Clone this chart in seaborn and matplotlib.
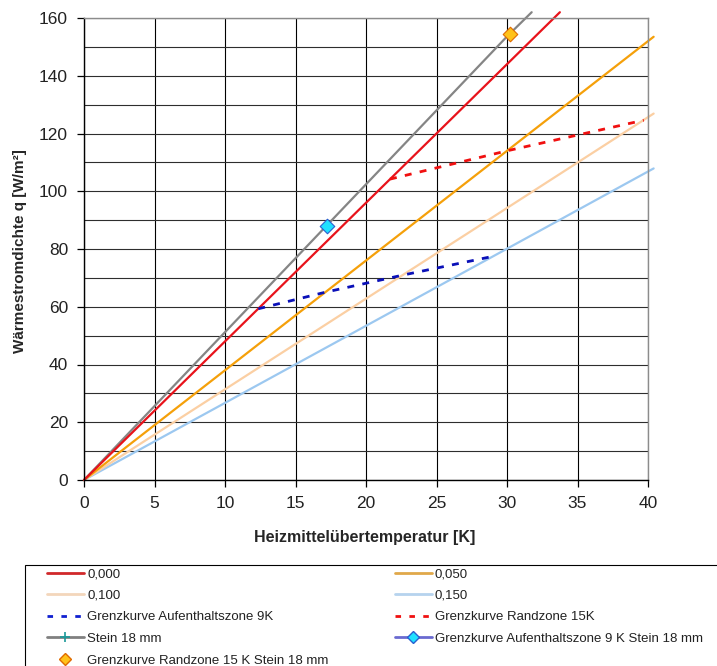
import matplotlib
matplotlib.use("Agg")
import matplotlib.pyplot as plt
from matplotlib.lines import Line2D
from matplotlib.patches import Rectangle
import seaborn as sns

sns.set_style("white")
plt.rcParams["font.family"] = ["Liberation Sans", "DejaVu Sans"]

# Heizmittelübertemperatur [K] -> Wärmestromdichte q [W/m²]
r000_dt = [0, 10, 20, 30, 33.75]
r000_q = [0, 48.0, 96.0, 144.0, 162.0]
r050_dt = [0, 10, 20, 30, 40.4]
r050_q = [0, 38.0, 76.0, 114.0, 153.5]
r100_dt = [0, 10, 20, 30, 40.4]
r100_q = [0, 31.4, 62.8, 94.2, 126.9]
r150_dt = [0, 10, 20, 30, 40.4]
r150_q = [0, 26.7, 53.4, 80.1, 107.9]
stein_dt = [0, 10, 20, 30, 31.75]
stein_q = [0, 51.2, 102.4, 153.6, 162.0]

grenz9_dt = [12.36, 17.09, 22.65, 29.15]
grenz9_q = [59.3, 65.0, 71.0, 77.6]
grenz15_dt = [21.7, 30.0, 39.7]
grenz15_q = [104.2, 114.0, 124.6]

grenz9_stein_dt = [17.2]
grenz9_stein_q = [88.1]
grenz15_stein_dt = [30.2]
grenz15_stein_q = [154.6]

c_red = "#e8131b"
c_orange = "#f5a00a"
c_peach = "#fbcfa3"
c_blue = "#9cc8f0"
c_grey = "#858585"
c_navy = "#0a10b8"
c_rdot = "#f01010"

fig = plt.figure(figsize=(7.17, 6.66), dpi=100)
ax = fig.add_axes([84 / 717, 186 / 666, 564 / 717, 462 / 666])

# grid first
ax.set_axisbelow(True)
ax.set_xlim(0, 40)
ax.set_ylim(0, 160)
ax.set_xticks(range(0, 41, 5))
ax.set_yticks(range(0, 161, 20))
ax.set_yticks(range(0, 161, 10), minor=True)
ax.grid(axis="x", which="major", color="black", lw=0.8)
ax.grid(axis="y", which="both", color="#2e2e2e", lw=0.8)
ax.tick_params(axis="both", which="major", direction="out", length=5, width=0.9,
               color="black", labelsize=12.5, pad=6.5, left=True, bottom=True,
               labelcolor="#222222")
ax.tick_params(axis="both", which="minor", length=0)

lw = 1.6
common = dict(ax=ax, estimator=None, sort=False, clip_on=False, lw=lw)
sns.lineplot(x=r150_dt, y=r150_q, color=c_blue, **common)
sns.lineplot(x=r100_dt, y=r100_q, color=c_peach, **common)
sns.lineplot(x=r050_dt, y=r050_q, color=c_orange, **common)
sns.lineplot(x=stein_dt, y=stein_q, color=c_grey, **common)
sns.lineplot(x=r000_dt, y=r000_q, color=c_red, **common)
sns.lineplot(x=grenz9_dt, y=grenz9_q, color=c_navy, ax=ax, estimator=None, sort=False,
             lw=2, linestyle=(0, (2.5, 3)))
sns.lineplot(x=grenz15_dt, y=grenz15_q, color=c_rdot, ax=ax, estimator=None, sort=False,
             lw=2, linestyle=(0, (2.5, 3)))
sns.scatterplot(x=grenz9_stein_dt, y=grenz9_stein_q, ax=ax, marker="D", s=55,
                color="#1fe0ff", edgecolor="#2a5fd0", linewidth=0.8, zorder=5)
sns.scatterplot(x=grenz15_stein_dt, y=grenz15_stein_q, ax=ax, marker="D", s=55,
                color="#ffc21a", edgecolor="#e06a00", linewidth=0.8, zorder=5)

for side in ["left", "bottom"]:
    ax.spines[side].set_color("black")
    ax.spines[side].set_linewidth(1.0)
for side in ["top", "right"]:
    ax.spines[side].set_color("#8c8c8c")
    ax.spines[side].set_linewidth(1.0)

ax.set_xlabel("Heizmittelübertemperatur [K]", fontsize=11.5, fontweight="bold")
ax.set_ylabel("Wärmestromdichte q [W/m²]", fontsize=11, fontweight="bold")
ax.xaxis.set_label_coords(0.498, -0.1234)
ax.xaxis.label.set_verticalalignment("center")
ax.yaxis.set_label_coords(-0.1135, 0.4957)
ax.yaxis.label.set_verticalalignment("center")

# legend (column-first order for two columns)
h_r000 = Line2D([], [], color="#d0282a", lw=2)
h_r050 = Line2D([], [], color="#e0a84a", lw=2)
h_r100 = Line2D([], [], color="#f3d6bb", lw=2)
h_r150 = Line2D([], [], color="#b6d3ee", lw=2)
h_g9 = Line2D([], [], color="#1020d0", lw=2, linestyle=(0, (2, 3)))
h_g15 = Line2D([], [], color="#f01010", lw=2, linestyle=(0, (2, 3)))
h_stein = Line2D([], [], color="#808080", lw=2, marker="+", ms=7, mec="#1a9a9a", mew=1.2)
h_g9s = Line2D([], [], color="#6a6ad0", lw=2, marker="D", ms=6, mfc="#1fe0ff", mec="#2a5fd0")
h_g15s = Line2D([], [], ls="none", marker="D", ms=6, mfc="#ffc21a", mec="#e06a00")

handles = [h_r000, h_r100, h_g9, h_stein, h_g15s, h_r050, h_r150, h_g15, h_g9s]
labels = ["0,000", "0,100", "Grenzkurve Aufenthaltszone 9K", "Stein 18 mm",
          "Grenzkurve Randzone 15 K Stein 18 mm",
          "0,050", "0,150", "Grenzkurve Randzone 15K",
          "Grenzkurve Aufenthaltszone 9 K Stein 18 mm"]
fig.legend(handles, labels, ncol=2, loc="upper left",
           bbox_to_anchor=(47 / 717, 1 - 568 / 666), frameon=False,
           fontsize=9.5, handlelength=2.8, handletextpad=0.25, columnspacing=5.0,
           labelspacing=0.71, borderpad=0, borderaxespad=0, numpoints=1,
           labelcolor="#222222")
fig.patches.append(Rectangle((25 / 717, -0.05), 1.0, (666 - 565) / 666 + 0.05,
                             transform=fig.transFigure, fill=False,
                             edgecolor="black", lw=0.8))

fig.savefig("out.png", dpi=100)
